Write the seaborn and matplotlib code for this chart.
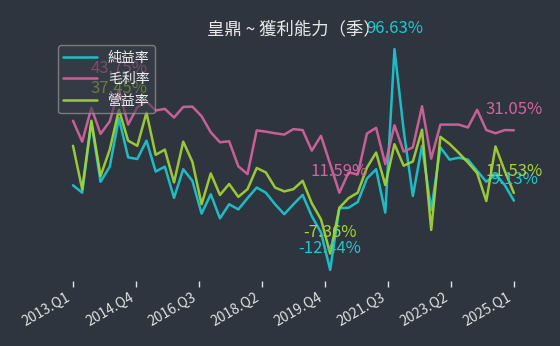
import numpy as np
import pandas as pd
import matplotlib
matplotlib.use("Agg")
import matplotlib.pyplot as plt
import seaborn as sns

# 季度 2013.Q1 ~ 2025.Q1
start_year = 2013
n_quarters = 49
quarters = [f"{start_year + i // 4}.Q{i % 4 + 1}" for i in range(n_quarters)]

net_margin = [13.9, 11.6, 33.5, 15.0, 19.7, 34.8, 22.6, 22.1, 27.8, 18.2,
              19.7, 10.0, 18.9, 15.3, 5.1, 11.1, 3.6, 8.0, 6.4, 9.9,
              13.2, 11.6, 8.0, 4.9, 8.0, 10.9, 4.3, -0.8, -12.44, 6.8,
              6.9, 8.7, 16.0, 18.9, 5.4, 96.63, 31.0, 10.6, 26.2, 6.2,
              25.7, 21.9, 22.5, 21.9, 18.4, 15.0, 17.3, 14.0, 9.13]
gross_margin = [34.0, 27.5, 38.0, 29.9, 33.8, 43.75, 32.8, 38.2, 40.0, 37.2,
                37.7, 35.0, 38.3, 38.4, 35.4, 30.4, 27.3, 27.6, 19.8, 17.4,
                31.0, 30.6, 30.1, 29.7, 31.4, 31.1, 24.7, 29.3, 20.5, 11.59,
                17.9, 17.3, 30.0, 31.8, 20.5, 32.6, 24.4, 25.7, 38.5, 22.2,
                32.8, 32.8, 32.8, 31.9, 37.4, 31.1, 30.1, 31.1, 31.05]
op_margin = [26.2, 12.7, 34.0, 16.8, 25.0, 37.45, 27.8, 26.2, 36.5, 23.4,
             25.0, 14.8, 27.5, 21.2, 8.0, 17.6, 10.9, 14.3, 10.3, 12.7,
             19.3, 17.9, 13.2, 12.0, 12.7, 15.3, 8.3, 3.3, -7.36, 6.9,
             9.9, 11.6, 19.4, 24.1, 14.0, 26.7, 20.0, 21.3, 31.2, 0.0,
             29.0, 26.8, 24.0, 21.0, 17.7, 9.0, 26.0, 18.4, 11.53]

series_names = ["純益率", "毛利率", "營益率"]
colors = ["#1ec8d2", "#d4649f", "#a4d634"]
bg = "#2f353f"

df = pd.DataFrame({"idx": range(n_quarters), "純益率": net_margin,
                   "毛利率": gross_margin, "營益率": op_margin})
long_df = df.melt(id_vars="idx", var_name="項目", value_name="值")

sns.set_theme(style="dark", rc={"axes.facecolor": bg, "figure.facecolor": bg})
plt.rcParams["font.family"] = ["Noto Sans CJK TC", "DejaVu Sans"]
plt.rcParams["axes.unicode_minus"] = False

fig, ax = plt.subplots(figsize=(5.6, 3.46), dpi=100)
fig.subplots_adjust(left=0.091, right=0.957, top=0.89, bottom=0.188)

# 高於 45% 的部分壓縮顯示
knee, k = 45.0, 0.219
ax.set_yscale("function", functions=(
    lambda v: np.where(v <= knee, v, knee + (v - knee) * k),
    lambda t: np.where(t <= knee, t, knee + (t - knee) / k)))

sns.lineplot(data=long_df, x="idx", y="值", hue="項目", hue_order=series_names,
             palette=colors, linewidth=1.8, alpha=0.92, ax=ax)

# 標註最高、最低、最新
for name, c in zip(series_names, colors):
    vals = df[name].to_numpy()
    for i in [int(np.argmax(vals)), int(np.argmin(vals)), len(vals) - 1]:
        ax.annotate(f"{vals[i]:.2f}%", (i, vals[i]), xytext=(0, 9),
                    textcoords="offset points", ha="center", va="bottom",
                    color=c, fontsize=12)

ticks = np.linspace(0, n_quarters - 1, 8)
ax.set_xticks(ticks)
ax.set_xticklabels([quarters[int(round(t))] for t in ticks], rotation=30, ha="right")
ax.tick_params(axis="x", colors="#e0e0e0", labelsize=10, length=4, width=1,
               bottom=True, pad=3)
ax.set_yticks([])
ax.set_xlabel("")
ax.set_ylabel("")
for s in ax.spines.values():
    s.set_visible(False)

ax.set_title("皇鼎 ~ 獲利能力（季）", color="#e8e8e8", fontsize=12.5, pad=3)

leg = ax.legend(loc="upper left", fontsize=10, handlelength=2.4, frameon=True,
                facecolor="#3a404a", edgecolor="#a8a8a8", framealpha=0.6,
                labelspacing=0.55, handletextpad=0.8, title=None)
for t in leg.get_texts():
    t.set_color("#f0f0f0")

fig.savefig("out.png", dpi=100, facecolor=bg)
